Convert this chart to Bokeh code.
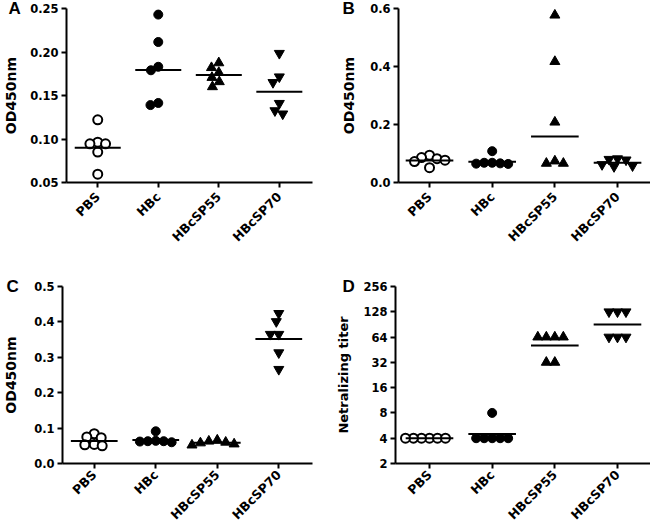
import math
from math import pi
from bokeh.plotting import figure
from bokeh.layouts import column, row
from bokeh.models import FixedTicker, PrintfTickFormatter, Range1d
from bokeh.embed import file_html
from bokeh.resources import INLINE

groups = ["PBS", "HBc", "HBcSP55", "HBcSP70"]

# Panel A (OD450nm)
a_pbs = [0.122, 0.0964, 0.0945, 0.0945, 0.085, 0.0595]
a_hbc = [0.243, 0.2115, 0.183, 0.179, 0.1414, 0.139]
a_sp55 = [0.1875, 0.182, 0.1764, 0.1707, 0.1658, 0.160]
a_sp70 = [0.1985, 0.1715, 0.165, 0.141, 0.1326, 0.1289]
a_ticks = [0.05, 0.10, 0.15, 0.20, 0.25]

# Panel B (OD450nm)
b_pbs = [0.094, 0.086, 0.082, 0.077, 0.072, 0.051]
b_hbc = [0.108, 0.068, 0.068, 0.066, 0.065, 0.064]
b_sp55 = [0.577, 0.417, 0.208, 0.074, 0.066, 0.066]
b_sp70 = [0.082, 0.080, 0.078, 0.062, 0.058, 0.055]
b_ticks = [0.0, 0.2, 0.4, 0.6]

# Panel C (OD450nm)
c_pbs = [0.084, 0.075, 0.073, 0.054, 0.053, 0.050]
c_hbc = [0.091, 0.064, 0.063, 0.063, 0.062, 0.060]
c_sp55 = [0.066, 0.063, 0.060, 0.058, 0.055, 0.052]
c_sp70 = [0.424, 0.401, 0.365, 0.365, 0.313, 0.266]
c_ticks = [0.0, 0.1, 0.2, 0.3, 0.4, 0.5]

# Panel D (Netralizing titer)
d_pbs = [4, 4, 4, 4, 4, 4]
d_hbc = [8, 4, 4, 4, 4, 4]
d_sp55 = [64, 64, 64, 64, 32, 32]
d_sp70 = [128, 128, 128, 64, 64, 64]
d_ticks = [2, 4, 8, 16, 32, 64, 128, 256]

STYLES = [("circle", "white"), ("circle", "black"), ("triangle", "black"), ("inverted_triangle", "black")]
TICK_FONT = "DejaVu Sans"


def swarm(vals, ypx, dist=8.0, step=0.5):
    order = sorted(range(len(vals)), key=lambda i: -vals[i])
    placed = []
    offs = [0.0] * len(vals)
    for i in order:
        y = ypx(vals[i])
        k = 0
        while True:
            cands = [0.0] if k == 0 else [-k * step, k * step]
            ok = None
            for c in cands:
                if all((c - px) ** 2 + (y - py) ** 2 >= dist ** 2 for px, py in placed):
                    ok = c
                    break
            if ok is not None:
                offs[i] = ok
                placed.append((ok, y))
                break
            k += 1
    return offs


def panel(letter, data, ticks, fmt, ylabel, width, height, bl, br, bt, bb,
          x_start, x_end, log=False, label_standoff=8, letter_dx=-56,
          ylabel_size="14px", xlabel_standoff=7):
    y_start, y_end = ticks[0], ticks[-1]
    p = figure(width=width, height=height, output_backend="svg", toolbar_location=None,
               x_range=Range1d(x_start, x_end), y_range=Range1d(y_start, y_end),
               y_axis_type="log" if log else "linear",
               min_border_left=bl, min_border_right=br, min_border_top=bt, min_border_bottom=bb)
    p.outline_line_color = None
    p.xgrid.visible = False
    p.ygrid.visible = False
    p.background_fill_color = "white"

    fw = width - bl - br
    fh = height - bt - bb
    pxx = fw / (x_end - x_start)
    if log:
        ypx = lambda v: (math.log(v) - math.log(y_start)) / (math.log(y_end) - math.log(y_start)) * fh
    else:
        ypx = lambda v: (v - y_start) / (y_end - y_start) * fh

    for gi, vals in enumerate(data):
        xc = gi + 1
        marker, fill = STYLES[gi]
        offs = swarm(vals, ypx, dist=8.0 if marker == "circle" else 8.5)
        xs = [xc + o / pxx for o in offs]
        size = 9 if marker == "circle" else 10
        lw = 2 if fill == "white" else 1
        p.scatter(xs, vals, marker=marker, size=size, fill_color=fill,
                  line_color="black", line_width=lw)
        gm = math.exp(sum(math.log(v) for v in vals) / len(vals))
        p.segment(x0=[xc - 0.38], y0=[gm], x1=[xc + 0.38], y1=[gm],
                  line_color="black", line_width=2)

    for ax in (p.xaxis, p.yaxis):
        ax.axis_line_width = 2
        ax.axis_line_color = "black"
        ax.major_tick_line_width = 2
        ax.major_tick_line_color = "black"
        ax.major_tick_out = 5
        ax.major_tick_in = 0
        ax.minor_tick_out = 0
        ax.minor_tick_in = 0
        ax.major_label_standoff = 3
        ax.major_label_text_font = TICK_FONT
        ax.major_label_text_font_style = "bold"
        ax.major_label_text_color = "black"

    p.xaxis.ticker = FixedTicker(ticks=[1, 2, 3, 4])
    p.xaxis.major_label_overrides = {i + 1: g for i, g in enumerate(groups)}
    p.xaxis.major_label_orientation = pi / 4
    p.xaxis.major_label_text_font_size = "12.5px"
    p.xaxis.major_label_standoff = xlabel_standoff

    p.yaxis.ticker = FixedTicker(ticks=ticks, minor_ticks=[])
    p.yaxis.formatter = PrintfTickFormatter(format=fmt)
    p.yaxis.major_label_text_font_size = "11.5px"
    p.yaxis.axis_label = ylabel
    p.yaxis.axis_label_text_font = TICK_FONT
    p.yaxis.axis_label_text_font_style = "bold"
    p.yaxis.axis_label_text_font_size = ylabel_size
    p.yaxis.axis_label_text_color = "black"
    p.yaxis.axis_label_standoff = label_standoff

    # panel letter drawn as a zero-height title, shifted left of the y axis
    p.title.text = letter
    p.title.align = "left"
    p.title.offset = letter_dx
    p.title.standoff = -21
    p.title.vertical_align = "middle"
    p.title.text_font = "Liberation Sans"
    p.title.text_font_style = "bold"
    p.title.text_font_size = "17px"
    p.title.text_color = "black"
    return p


pA = panel("A", [a_pbs, a_hbc, a_sp55, a_sp70], a_ticks, "%.2f", "OD450nm",
           325, 265, 60, 13, 7, 83, 0.484, 4.548, label_standoff=8, letter_dx=-58)
pB = panel("B", [b_pbs, b_hbc, b_sp55, b_sp70], b_ticks, "%.1f", "OD450nm",
           325, 265, 73, 0, 8, 82, 0.505, 4.526, label_standoff=10, letter_dx=-56)
pC = panel("C", [c_pbs, c_hbc, c_sp55, c_sp70], c_ticks, "%.1f", "OD450nm",
           325, 265, 60, 13, 21, 66, 0.484, 4.548, label_standoff=12, letter_dx=-56,
           xlabel_standoff=4)
pD = panel("D", [d_pbs, d_hbc, d_sp55, d_sp70], d_ticks, "%d", "Netralizing titer",
           325, 265, 70, 0, 19, 65, 0.4575, 4.527, log=True, label_standoff=9,
           letter_dx=-53, ylabel_size="13px", xlabel_standoff=4)

layout = column(row(pA, pB), row(pC, pD))
open("out.html", "w").write(file_html(layout, INLINE))
